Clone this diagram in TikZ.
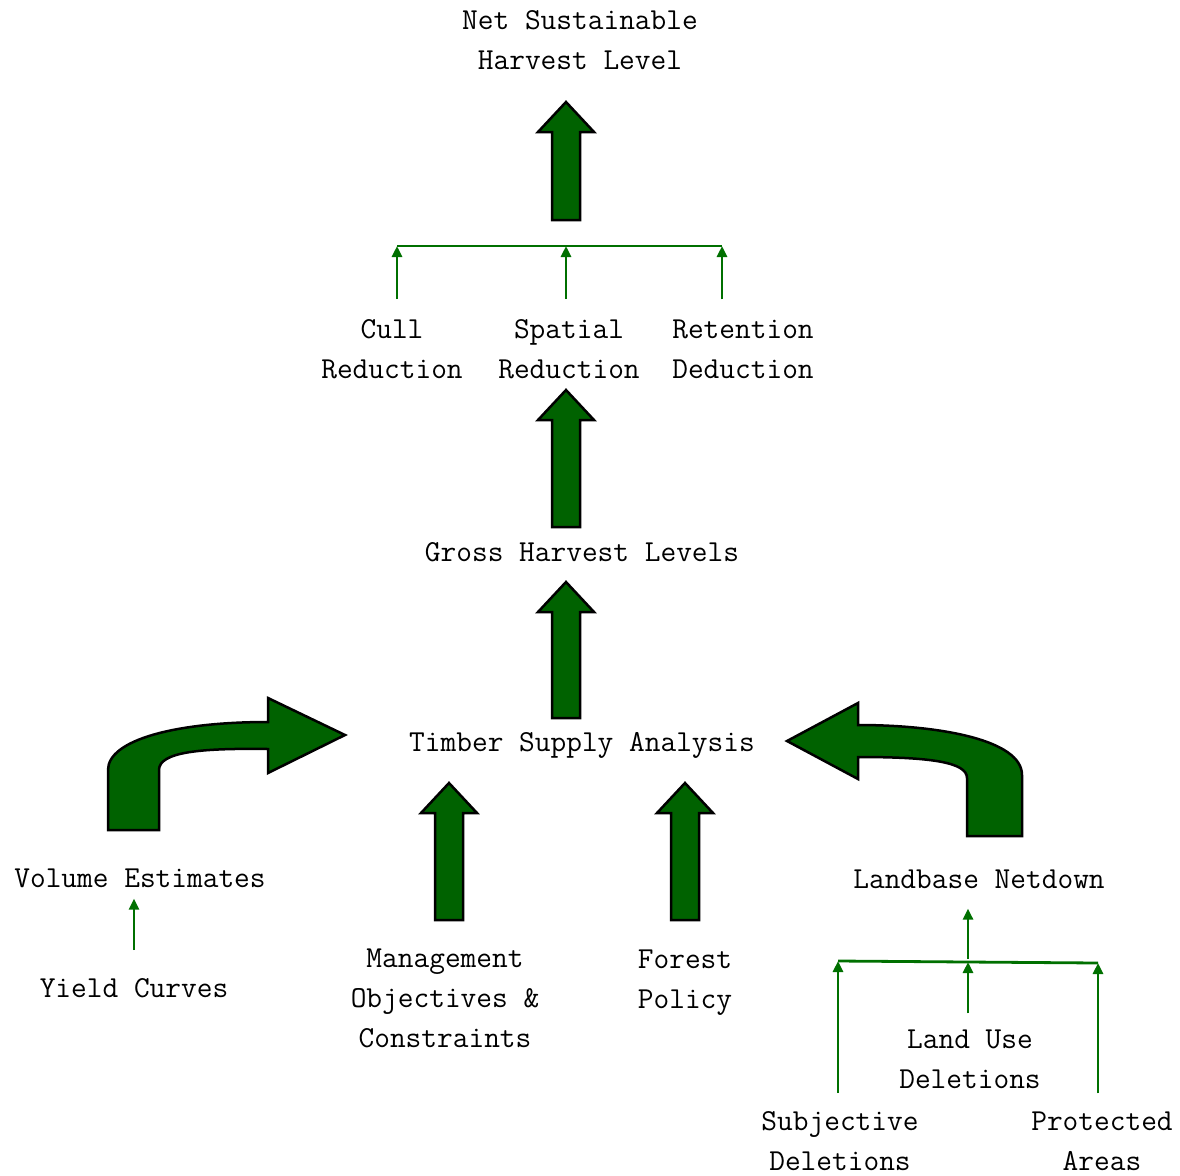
\documentclass[tikz,border=0pt]{standalone}
\usepackage{fontspec}
\usetikzlibrary{arrows.meta}

\definecolor{leaf}{RGB}{0,98,0}
\definecolor{twig}{RGB}{0,112,0}

\begin{document}
\begin{tikzpicture}[x=1pt, y=-1pt, font=\ttfamily\fontsize{30.5}{40}\selectfont,
    term/.style={inner sep=0pt, align=center},
    twigline/.style={draw=twig, line width=2.8pt},
    link/.style={twigline, -{Triangle[length=11pt,width=10pt]}},
    fat/.style={draw=black, line width=2.5pt, fill=leaf, line join=miter} ]

    \useasboundingbox (0,0) rectangle (1180,1175);

    % texts
    \node[term] (nsh) at (580,40) {Net Sustainable\\Harvest Level};
    \node[term] (cull) at (392,349) {Cull\\Reduction};
    \node[term] (spatial) at (569,349) {Spatial\\Reduction};
    \node[term] (retention) at (743,349) {Retention\\Deduction};
    \node[term] (gross) at (582,552) {Gross Harvest Levels};
    \node[term] (tsa) at (582,745) {Timber Supply Analysis};
    \node[term] (volume) at (140,878) {Volume Estimates};
    \node[term] (yield) at (134,988) {Yield Curves};
    \node[term] (mgmt) at (445,998) {Management\\Objectives \&\\Constraints};
    \node[term] (policy) at (685,983) {Forest\\Policy};
    \node[term] (landbase) at (979,879) {Landbase Netdown};
    \node[term] (landuse) at (970,1059) {Land Use\\Deletions};
    \node[term] (subjective) at (840,1141) {Subjective\\Deletions};
    \node[term] (protected) at (1102,1141) {Protected\\Areas};

    % thin connectors
    \coordinate (jL) at (397,246);
    \coordinate (jM) at (566,246);
    \coordinate (jR) at (722,246);
    \draw[twigline] (jL) -- (jR);
    \draw[link, shorten <=20pt] (cull.north -| jL) -- (jL);
    \draw[link, shorten <=20pt] (spatial.north -| jM) -- (jM);
    \draw[link, shorten <=20pt] (retention.north -| jR) -- (jR);

    \draw[link, shorten <=28pt, shorten >=11pt] (yield.north) -- (yield.north |- volume.south);

    \coordinate (kL) at (838,961);
    \coordinate (kM) at (968,962);
    \coordinate (kR) at (1098,963);
    \draw[twigline] (kL) -- (kR);
    \draw[link, shorten <=3pt, shorten >=20pt] (kM) -- (kM |- landbase.south);
    \draw[link, shorten <=16pt] (landuse.north -| kM) -- (kM);
    \draw[link, shorten <=18pt] (subjective.north -| kL) -- (kL);
    \draw[link, shorten <=18pt] (protected.north -| kR) -- (kR);

    % fat arrows
    \foreach \x/\yb/\yt in {566/220/102, 566/527/390, 566/718/582, 449/920/783, 685/920/783}
      \draw[fat] ({\x-14},\yb) -- ({\x-14},{\yt+30}) -- ({\x-28},{\yt+30}) -- (\x,\yt)
        -- ({\x+28},{\yt+30}) -- ({\x+14},{\yt+30}) -- ({\x+14},\yb) -- cycle;

    \draw[fat] (108,830) -- (108,770) .. controls (108,740) and (175,722) .. (268,722)
      -- (268,698) -- (345,735) -- (268,773) -- (268,749)
      .. controls (200,748) and (159,752) .. (159,770) -- (159,830) -- cycle;

    \draw[fat] (787,741) -- (858,703) -- (858,725) .. controls (940,725) and (1022,740) .. (1022,775)
      -- (1022,836) -- (967,836) -- (967,778)
      .. controls (967,762) and (930,757) .. (858,757) -- (858,779) -- cycle;

\end{tikzpicture}
\end{document}
